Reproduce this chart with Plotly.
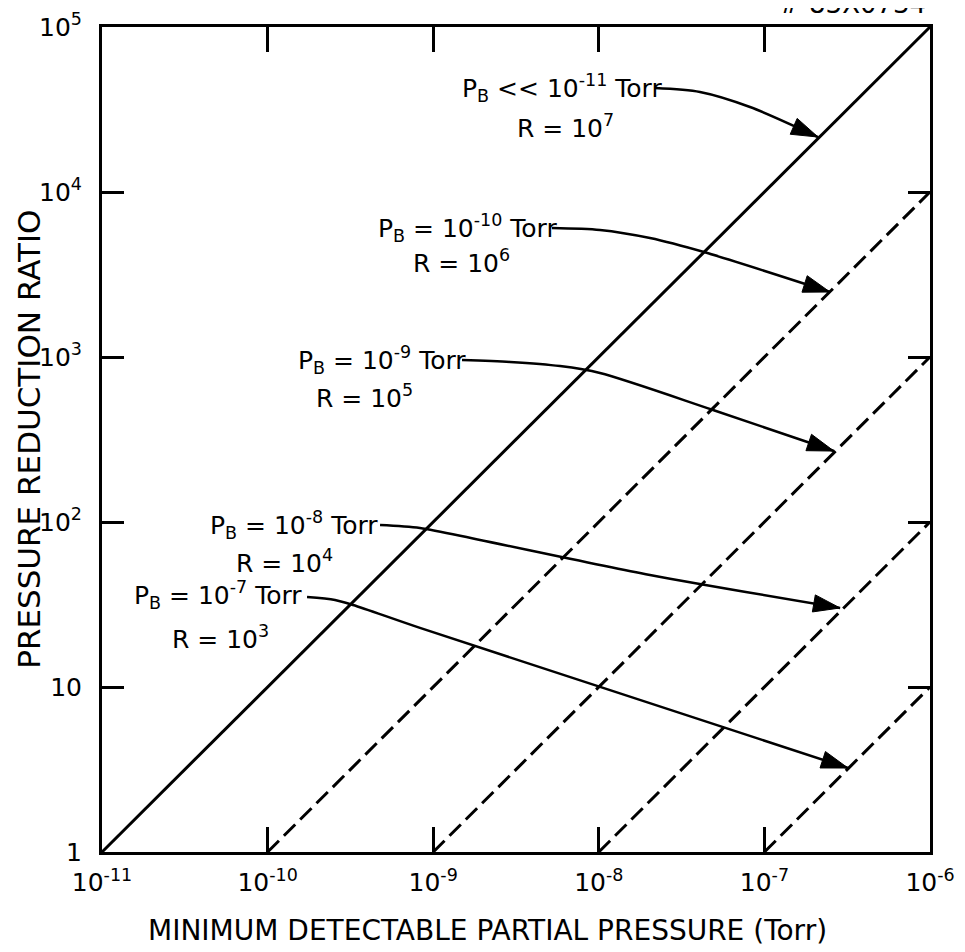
import plotly.graph_objects as go

# ---------------- data ----------------
x_ticks = [1e-11, 1e-10, 1e-9, 1e-8, 1e-7, 1e-6]
x_ticktext = ["10<sup>-11</sup>", "10<sup>-10</sup>", "10<sup>-9</sup>",
              "10<sup>-8</sup>", "10<sup>-7</sup>", "10<sup>-6</sup>"]
y_ticks = [1, 10, 100, 1e3, 1e4, 1e5]
y_ticktext = ["1", "10", "10<sup>2</sup>", "10<sup>3</sup>", "10<sup>4</sup>", "10<sup>5</sup>"]

# background pressure P_B (Torr) and the resulting lines (min detectable pressure vs ratio)
line_solid_x = [1e-11, 1e-6]
line_solid_y = [1, 1e5]
line_pb10_x = [1e-10, 1e-6]
line_pb10_y = [1, 1e4]
line_pb9_x = [1e-9, 1e-6]
line_pb9_y = [1, 1e3]
line_pb8_x = [1e-8, 1e-6]
line_pb8_y = [1, 1e2]
line_pb7_x = [1e-7, 1e-6]
line_pb7_y = [1, 10]

label_pb = ["P<sub>B</sub> << 10<sup>-11</sup> Torr", "P<sub>B</sub> = 10<sup>-10</sup> Torr",
            "P<sub>B</sub> = 10<sup>-9</sup> Torr", "P<sub>B</sub> = 10<sup>-8</sup> Torr",
            "P<sub>B</sub> = 10<sup>-7</sup> Torr"]
label_r = ["R = 10<sup>7</sup>", "R = 10<sup>6</sup>", "R = 10<sup>5</sup>",
           "R = 10<sup>4</sup>", "R = 10<sup>3</sup>"]

# ---------------- annotation geometry (log10 units) ----------------
pb_text_pos = [(-8.222, 4.630), (-8.790, 3.782), (-9.309, 2.982), (-9.841, 1.982), (-10.300, 1.558)]
r_text_pos = [(-8.204, 4.394), (-8.832, 3.576), (-9.412, 2.758), (-9.895, 1.758), (-10.287, 1.303)]
leaders = [
    [(-7.661, 4.630), (-7.389, 4.606), (-7.087, 4.515), (-6.676, 4.333)],
    [(-8.283, 3.782), (-7.993, 3.770), (-7.691, 3.721), (-7.365, 3.636), (-6.604, 3.394)],
    [(-8.826, 2.982), (-8.536, 2.970), (-8.234, 2.945), (-7.993, 2.903), (-7.310, 2.679), (-6.580, 2.430)],
    [(-9.321, 1.982), (-9.080, 1.964), (-8.717, 1.891), (-7.691, 1.679), (-6.543, 1.479)],
    [(-9.762, 1.545), (-9.593, 1.527), (-9.484, 1.497), (-9.080, 1.358), (-6.495, 0.509)],
]

FONT = "DejaVu Sans"
fig = go.Figure()

fig.add_trace(go.Scatter(x=line_solid_x, y=line_solid_y, mode="lines",
                         line=dict(color="black", width=3)))
for lx, ly in [(line_pb10_x, line_pb10_y), (line_pb9_x, line_pb9_y), (line_pb8_x, line_pb8_y),
               (line_pb7_x, line_pb7_y)]:
    fig.add_trace(go.Scatter(x=lx, y=ly, mode="lines",
                             line=dict(color="black", width=3, dash="16px,7px")))

for pts in leaders:
    xs = [10 ** p[0] for p in pts]
    ys = [10 ** p[1] for p in pts]
    sizes = [0] * (len(pts) - 1) + [28]
    fig.add_trace(go.Scatter(x=xs, y=ys, mode="lines+markers",
                             line=dict(color="black", width=2.5, shape="spline", smoothing=0.8),
                             marker=dict(symbol="arrow", size=sizes, angleref="previous",
                                         color="black", opacity=1,
                                         line=dict(width=1, color="black"))))

annotations = []
for (px, py), t in zip(pb_text_pos, label_pb):
    annotations.append(dict(x=px, y=py, xref="x", yref="y", text=t, showarrow=False,
                            font=dict(family=FONT, size=25, color="black"),
                            xanchor="center", yanchor="middle"))
for (px, py), t in zip(r_text_pos, label_r):
    annotations.append(dict(x=px, y=py, xref="x", yref="y", text=t, showarrow=False,
                            font=dict(family=FONT, size=25, color="black"),
                            xanchor="center", yanchor="middle"))

# axis titles and id label
annotations.append(dict(x=0.465, y=-0.095, xref="paper", yref="paper",
                        text="MINIMUM DETECTABLE PARTIAL PRESSURE (Torr)", showarrow=False,
                        font=dict(family=FONT, size=28, color="black"),
                        xanchor="center", yanchor="middle"))
annotations.append(dict(x=-0.089, y=0.5, xref="paper", yref="paper", textangle=-90,
                        text="PRESSURE REDUCTION RATIO", showarrow=False,
                        font=dict(family=FONT, size=31, color="black"),
                        xanchor="center", yanchor="middle"))
annotations.append(dict(x=0.906, y=1.007, xref="paper", yref="paper",
                        text="# 83X0734", showarrow=False,
                        font=dict(family=FONT, size=26, color="black"),
                        xanchor="center", yanchor="bottom"))

fig.update_layout(
    width=957, height=944,
    margin=dict(l=94, r=35, t=19, b=100),
    paper_bgcolor="white", plot_bgcolor="white",
    showlegend=False,
    annotations=annotations,
    xaxis=dict(type="log", range=[-11, -6], tickvals=x_ticks, ticktext=x_ticktext,
               ticks="inside", ticklen=25, tickwidth=2.5, tickcolor="black",
               showline=True, linewidth=3, linecolor="black", mirror="ticks",
               showgrid=False, zeroline=False, ticklabelstandoff=6, automargin=False,
               tickfont=dict(family=FONT, size=25, color="black")),
    yaxis=dict(type="log", range=[0, 5], tickvals=y_ticks, ticktext=y_ticktext,
               ticks="inside", ticklen=22, tickwidth=2.5, tickcolor="black",
               showline=True, linewidth=3, linecolor="black", mirror="ticks",
               showgrid=False, zeroline=False, ticklabelstandoff=12, automargin=False,
               tickfont=dict(family=FONT, size=25, color="black")),
)

fig.write_html("out.html")
